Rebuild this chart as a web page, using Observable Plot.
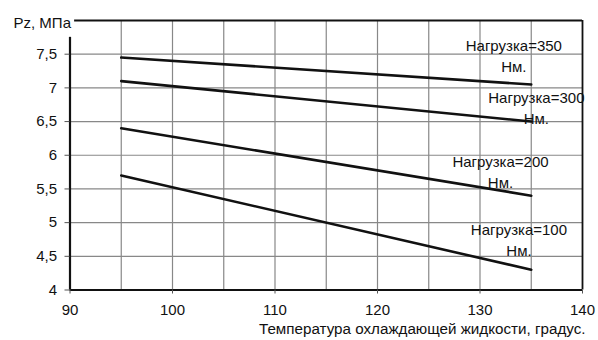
<!DOCTYPE html>
<html>
<head>
<meta charset="utf-8">
<script src="https://cdn.jsdelivr.net/npm/d3@7"></script>
<script src="https://cdn.jsdelivr.net/npm/@observablehq/plot@0.6"></script>
<style>
  html, body { margin: 0; padding: 0; background: #fff; }
  #chart { width: 598px; height: 340px; }
  svg { font-family: "Liberation Sans", Arial, sans-serif; }
</style>
</head>
<body>
<div id="chart"></div>
<script>
// ---- data ----
const temps = [95, 135];
const load100 = [5.7, 4.3];
const load200 = [6.4, 5.4];
const load300 = [7.1, 6.5];
const load350 = [7.45, 7.05];
const seriesNames = ["Нагрузка=100\nНм.", "Нагрузка=200\nНм.", "Нагрузка=300\nНм.", "Нагрузка=350\nНм."];
const xTicks = [90, 100, 110, 120, 130, 140];
const yTicks = [4, 4.5, 5, 5.5, 6, 6.5, 7, 7.5];
const xGrid = [95, 100, 105, 110, 115, 120, 125, 130, 135];
const yGrid = [4.5, 5, 5.5, 6, 6.5, 7, 7.5];
const yTitle = "Pz, МПа";
const xTitle = "Температура охлаждающей жидкости, градус.";

// table built from arrays
const allSeries = [load100, load200, load300, load350];
const rows = [];
allSeries.forEach((vals, i) => {
  temps.forEach((t, j) => rows.push({ series: seriesNames[i], t, v: vals[j] }));
});

// label anchors (annotation placement)
const labelAnchors = [
  { text: seriesNames[0], x: 133.8, y: 4.76 },
  { text: seriesNames[1], x: 132.0, y: 5.77 },
  { text: seriesNames[2], x: 135.5, y: 6.72 },
  { text: seriesNames[3], x: 133.3, y: 7.49 }
];

const fmt = d => String(d).replace(".", ",");
const gridColor = "#888";
const ink = "#111";

const chart = Plot.plot({
  width: 598,
  height: 340,
  marginLeft: 69.5,
  marginRight: 16,
  marginTop: 20,
  marginBottom: 50.5,
  style: { fontFamily: "'Liberation Sans', Arial, sans-serif", color: ink, background: "#fff" },
  x: { domain: [90, 140] },
  y: { domain: [4, 8] },
  marks: [
    Plot.ruleX(xGrid, { y1: 4, y2: 8, stroke: gridColor, strokeWidth: 1.2 }),
    Plot.ruleY(yGrid, { x1: 90, x2: 140, stroke: gridColor, strokeWidth: 1.2 }),
    Plot.line(rows, { x: "t", y: "v", z: "series", stroke: ink, strokeWidth: 2.6 }),
    Plot.text(labelAnchors, { x: "x", y: "y", text: "text", fontSize: 15, lineHeight: 1.4, textAnchor: "middle", fill: ink }),
    // frame
    Plot.ruleX([140], { y1: 4, y2: 8, stroke: ink, strokeWidth: 1.8 }),
    Plot.ruleY([8], { x1: 90.45, x2: 140, stroke: ink, strokeWidth: 2 }),
    Plot.ruleY([4], { x1: 90, x2: 140, stroke: ink, strokeWidth: 2.2 }),
    Plot.ruleX([90], { y1: 4, y2: 7.75, stroke: ink, strokeWidth: 2.2 }),
    Plot.axisY(yTicks, { tickFormat: fmt, tickSize: 5, tickPadding: 8, fontSize: 15, label: null, stroke: "#555" }),
    Plot.axisX(xTicks, { tickSize: 4, tickPadding: 10, fontSize: 15, label: null, stroke: "#555" }),
    Plot.text([yTitle], { x: 90, y: 8, textAnchor: "end", dx: 1, dy: 3, fontSize: 15, fill: ink }),
    Plot.text([xTitle], { frameAnchor: "bottom-right", textAnchor: "end", dx: 3, dy: 44, fontSize: 15.2, fill: ink })
  ]
});
document.getElementById("chart").appendChild(chart);
</script>
</body>
</html>
